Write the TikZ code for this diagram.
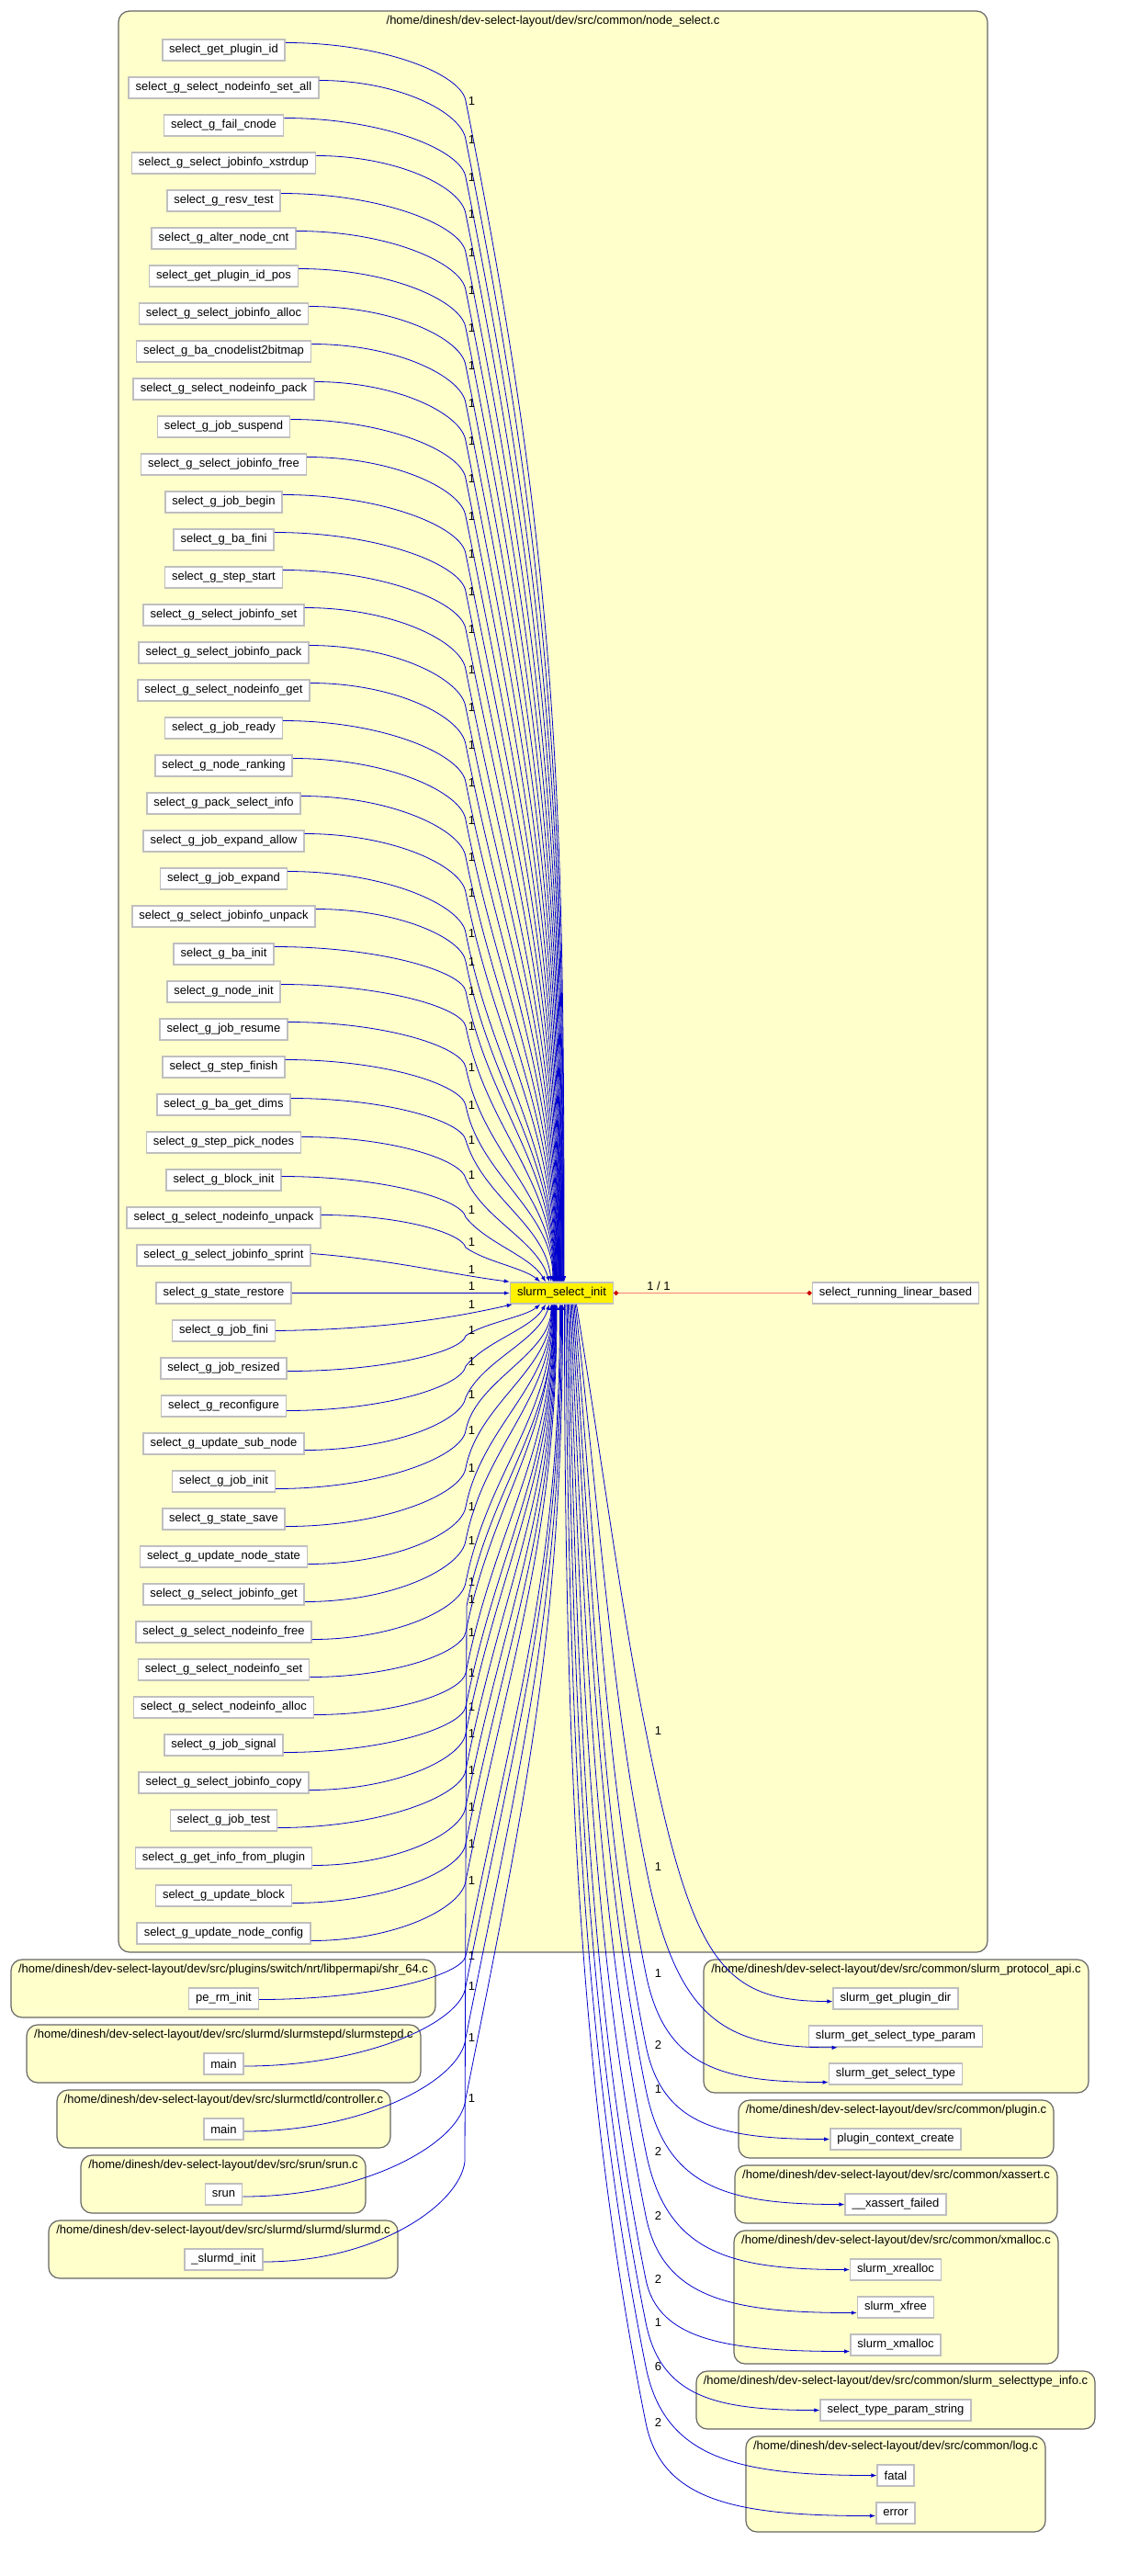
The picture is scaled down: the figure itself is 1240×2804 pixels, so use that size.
\documentclass[tikz,border=0pt]{standalone}
\usepackage{fontspec}
\setmainfont{Liberation Sans}
\usetikzlibrary{calc,arrows.meta}
\definecolor{clfill}{RGB}{255,255,204}
\definecolor{clline}{RGB}{102,102,102}
\definecolor{boxline}{RGB}{191,191,191}
\definecolor{eblue}{RGB}{0,0,205}
\definecolor{ered}{RGB}{250,128,114}
\definecolor{dred}{RGB}{204,0,0}
\newcommand\dgfont{\fontsize{13pt}{15pt}\selectfont}
\begin{document}
\begin{tikzpicture}[x=1pt,y=-1pt,
  fn/.style={draw=boxline,line width=1.6pt,fill=white,minimum height=23pt,inner xsep=7.5pt,inner ysep=0pt,font=\dgfont},
  hubstyle/.style={fn,fill=yellow},
  cluster/.style={draw=clline,line width=1.2pt,fill=clfill,rounded corners=12pt,inner sep=0pt},
  ctitle/.style={inner sep=0pt,font=\dgfont},
  lbl/.style={inner sep=0pt,font=\dgfont},
  calledge/.style={draw=eblue,line width=0.8pt,-{Latex[length=6pt,width=4.5pt]}},
]
\useasboundingbox (0,0) rectangle (1240,2804);
\fill[white] (0,0) rectangle (1240,2804);

% ---------- clusters ----------
\node[cluster,minimum width=946pt,minimum height=2113pt] (cmain) at (602,1068.5) {};
\node[ctitle] (tmain) at (602,23) {/home/dinesh/dev-select-layout/dev/src/common/node\_select.c};

\node[cluster,minimum width=462pt,minimum height=63pt] (c1) at (243,2164.5) {};
\node[ctitle] (t1) at (243,2144) {/home/dinesh/dev-select-layout/dev/src/plugins/switch/nrt/libpermapi/shr\_64.c};
\node[cluster,minimum width=429pt,minimum height=63pt] (c2) at (243.5,2235.5) {};
\node[ctitle] (t2) at (243.5,2215) {/home/dinesh/dev-select-layout/dev/src/slurmd/slurmstepd/slurmstepd.c};
\node[cluster,minimum width=363pt,minimum height=63pt] (c3) at (243.5,2306.5) {};
\node[ctitle] (t3) at (243.5,2286) {/home/dinesh/dev-select-layout/dev/src/slurmctld/controller.c};
\node[cluster,minimum width=310pt,minimum height=63pt] (c4) at (243,2377.5) {};
\node[ctitle] (t4) at (243,2357) {/home/dinesh/dev-select-layout/dev/src/srun/srun.c};
\node[cluster,minimum width=380pt,minimum height=63pt] (c5) at (243,2448.5) {};
\node[ctitle] (t5) at (243,2428) {/home/dinesh/dev-select-layout/dev/src/slurmd/slurmd/slurmd.c};

\node[cluster,minimum width=419pt,minimum height=145pt] (r1) at (975.5,2205.5) {};
\node[ctitle] (tr1) at (975.5,2144) {/home/dinesh/dev-select-layout/dev/src/common/slurm\_protocol\_api.c};
\node[cluster,minimum width=343pt,minimum height=63pt] (r2) at (975.5,2317.5) {};
\node[ctitle] (tr2) at (975.5,2297) {/home/dinesh/dev-select-layout/dev/src/common/plugin.c};
\node[cluster,minimum width=351pt,minimum height=63pt] (r3) at (975.5,2388.5) {};
\node[ctitle] (tr3) at (975.5,2368) {/home/dinesh/dev-select-layout/dev/src/common/xassert.c};
\node[cluster,minimum width=353pt,minimum height=145pt] (r4) at (975.5,2500.5) {};
\node[ctitle] (tr4) at (975.5,2439) {/home/dinesh/dev-select-layout/dev/src/common/xmalloc.c};
\node[cluster,minimum width=434pt,minimum height=63pt] (r5) at (975,2612.5) {};
\node[ctitle] (tr5) at (975,2592) {/home/dinesh/dev-select-layout/dev/src/common/slurm\_selecttype\_info.c};
\node[cluster,minimum width=326pt,minimum height=104pt] (r6) at (975,2704) {};
\node[ctitle] (tr6) at (975,2663) {/home/dinesh/dev-select-layout/dev/src/common/log.c};

% ---------- nodes ----------
\foreach \nm [count=\i] in {select\_get\_plugin\_id,select\_g\_select\_nodeinfo\_set\_all,select\_g\_fail\_cnode,select\_g\_select\_jobinfo\_xstrdup,select\_g\_resv\_test,select\_g\_alter\_node\_cnt,select\_get\_plugin\_id\_pos,select\_g\_select\_jobinfo\_alloc,select\_g\_ba\_cnodelist2bitmap,select\_g\_select\_nodeinfo\_pack,select\_g\_job\_suspend,select\_g\_select\_jobinfo\_free,select\_g\_job\_begin,select\_g\_ba\_fini,select\_g\_step\_start,select\_g\_select\_jobinfo\_set,select\_g\_select\_jobinfo\_pack,select\_g\_select\_nodeinfo\_get,select\_g\_job\_ready,select\_g\_node\_ranking,select\_g\_pack\_select\_info,select\_g\_job\_expand\_allow,select\_g\_job\_expand,select\_g\_select\_jobinfo\_unpack,select\_g\_ba\_init,select\_g\_node\_init,select\_g\_job\_resume,select\_g\_step\_finish,select\_g\_ba\_get\_dims,select\_g\_step\_pick\_nodes,select\_g\_block\_init,select\_g\_select\_nodeinfo\_unpack,select\_g\_select\_jobinfo\_sprint,select\_g\_state\_restore,select\_g\_job\_fini,select\_g\_job\_resized,select\_g\_reconfigure,select\_g\_update\_sub\_node,select\_g\_job\_init,select\_g\_state\_save,select\_g\_update\_node\_state,select\_g\_select\_jobinfo\_get,select\_g\_select\_nodeinfo\_free,select\_g\_select\_nodeinfo\_set,select\_g\_select\_nodeinfo\_alloc,select\_g\_job\_signal,select\_g\_select\_jobinfo\_copy,select\_g\_job\_test,select\_g\_get\_info\_from\_plugin,select\_g\_update\_block,select\_g\_update\_node\_config}{
  \node[fn] (u\i) at (243.5,{54.5+41*(\i-1)}) {\nm};
}
\node[hubstyle] (hub) at (611.5,1407.5) {slurm\_select\_init};
\node[fn] (rlb) at (975,1407.5) {select\_running\_linear\_based};

\node[fn] (cpe) at (243.5,2175.5) {pe\_rm\_init};
\node[fn] (cm1) at (243.5,2246.5) {main};
\node[fn] (cm2) at (243.5,2317.5) {main};
\node[fn] (csr) at (243.5,2388.5) {srun};
\node[fn] (csd) at (243.5,2459.5) {\_slurmd\_init};

\node[fn] (rpd) at (975,2175.5) {slurm\_get\_plugin\_dir};
\node[fn] (rstp) at (975,2216.5) {slurm\_get\_select\_type\_param};
\node[fn] (rst) at (975,2257.5) {slurm\_get\_select\_type};
\node[fn] (pcc) at (975,2328.5) {plugin\_context\_create};
\node[fn] (xaf) at (975,2399.5) {\_\_xassert\_failed};
\node[fn] (xre) at (975,2470.5) {slurm\_xrealloc};
\node[fn] (xfr) at (975,2511.5) {slurm\_xfree};
\node[fn] (xma) at (975,2552.5) {slurm\_xmalloc};
\node[fn] (tps) at (975,2623.5) {select\_type\_param\_string};
\node[fn] (fat) at (975,2694.5) {fatal};
\node[fn] (err) at (975,2735.5) {error};

% ---------- upper left edges ----------
\foreach \i/\ly in {1/110,2/152,3/193,4/233,5/275,6/316,7/357,8/398,9/439,10/480,11/521,12/562,13/603,14/644,15/685,16/729,17/770,18/810.7,19/851.7,20/892.7,21/933,22/971.7,23/1015.7,24/1046.7,25/1079,26/1117.3,27/1161.7,28/1203.3}{
  \pgfmathsetmacro{\hxv}{2.5-0.45*(\i-1)}
  \pgfmathsetmacro{\ddv}{0.4*(1396-\ly)}
  \coordinate (su\i) at ([yshift=8pt]u\i.east);
  \coordinate (pu\i) at (507,\ly);
  \coordinate (hu\i) at ([xshift=\hxv pt]hub.north);
  \draw[calledge] (su\i) .. controls ($(su\i)!0.55!(su\i -| pu\i)$) and ($(pu\i)!0.45!(pu\i |- su\i)+(-4,0)$) .. (pu\i) .. controls ($(pu\i)+(0.2*\ddv,\ddv)$) and ($(hu\i)+(0,-\ddv)$) .. (hu\i);
  \node[lbl] (lu\i) at (513.5,\ly) {1};
}
\foreach \i/\ly/\py/\hxv/\dl/\sv/\axv in {29/1241/0/-11.5/7/0.3/0.1,30/1279/4/-13.5/6/0.45/0.3,31/1317/8/-17.5/4/0.8/0.6,32/1352/6/-23.5/3/1.4/1.2}{
  \pgfmathsetmacro{\pyy}{\ly+\py}
  \pgfmathsetmacro{\ddv}{0.4*(1396-\pyy)}
  \coordinate (su\i) at ([yshift=\dl pt]u\i.east);
  \coordinate (pu\i) at (507,\pyy);
  \coordinate (hu\i) at ([xshift=\hxv pt]hub.north);
  \draw[calledge] (su\i) .. controls ($(su\i)!0.55!(su\i -| pu\i)$) and ($(pu\i)!0.45!(pu\i |- su\i)+(-4,0)$) .. (pu\i) .. controls ($(pu\i)+(\sv*\ddv,\ddv)$) and ($(hu\i)+(-\axv*\ddv,-\ddv)$) .. (hu\i);
  \node[lbl] (lu\i) at (513.5,\ly) {1};
}
\draw[calledge] ([yshift=2pt]u33.east) .. controls (425,1371) and (490,1387) .. (hub.north west);
\node[lbl] (lu33) at (513.5,1382) {1};
\draw[calledge] (u34.east) -- (hub.west);
\node[lbl] (lu34) at (513.5,1400.5) {1};

% ---------- lower left edges ----------
\draw[calledge] (u35.east) .. controls (420,1447) and (495,1434) .. ([xshift=3pt]hub.south west);
\node[lbl] (ll35) at (513.5,1420) {1};
\foreach \kk/\ly/\py/\hxv/\dl/\sv/\axv in {36/1448/6/-23.5/3/1.4/1.2,37/1482/5/-17.5/5/0.8/0.6,38/1518/3/-13.5/7/0.45/0.3}{
  \pgfmathsetmacro{\pyy}{\ly+\py}
  \pgfmathsetmacro{\ddv}{0.4*(\pyy-1420)}
  \coordinate (sl\kk) at ([yshift=-\dl pt]u\kk.east);
  \coordinate (pl\kk) at (507,\pyy);
  \coordinate (hl\kk) at ([xshift=\hxv pt]hub.south);
  \draw[calledge] (sl\kk) .. controls ($(sl\kk)!0.55!(sl\kk -| pl\kk)$) and ($(pl\kk)!0.45!(pl\kk |- sl\kk)+(-4,0)$) .. (pl\kk) .. controls ($(pl\kk)+(\sv*\ddv,-\ddv)$) and ($(hl\kk)+(-\axv*\ddv,\ddv)$) .. (hl\kk);
  \node[lbl] (ll\kk) at (513.5,\ly) {1};
}
\foreach \kk/\ly in {39/1557,40/1597.7,41/1640,42/1676.7,43/1722.3,44/1776.7,45/1821,46/1857.7,47/1886.7,48/1926.7,49/1966.7,50/2006.7,51/2047.3}{
  \pgfmathsetmacro{\hxv}{-11.5+0.5*(\kk-39)}
  \pgfmathsetmacro{\ddv}{0.4*(\ly-1420)}
  \coordinate (sl\kk) at ([yshift=-8pt]u\kk.east);
  \coordinate (pl\kk) at (507,\ly);
  \coordinate (hl\kk) at ([xshift=\hxv pt]hub.south);
  \draw[calledge] (sl\kk) .. controls ($(sl\kk)!0.55!(sl\kk -| pl\kk)$) and ($(pl\kk)!0.45!(pl\kk |- sl\kk)+(-4,0)$) .. (pl\kk) .. controls ($(pl\kk)+(0.2*\ddv,-\ddv)$) and ($(hl\kk)+(0,\ddv)$) .. (hl\kk);
  \node[lbl] (ll\kk) at (513.5,\ly) {1};
}
\foreach \nm/\ly/\hxv/\dl in {cpe/2129/-2/1,cm1/2162/-1/2.5,cm2/2218/0/2.5,csr/2284/1/2.5}{
  \pgfmathsetmacro{\ddv}{0.4*(\ly-1420)}
  \coordinate (s\nm) at ([yshift=-\dl pt]\nm.east);
  \coordinate (p\nm) at (507,\ly);
  \coordinate (h\nm) at ([xshift=\hxv pt]hub.south);
  \draw[calledge] (s\nm) .. controls ($(s\nm)!0.55!(s\nm -| p\nm)$) and ($(p\nm)!0.45!(p\nm |- s\nm)+(-4,0)$) .. (p\nm) .. controls ($(p\nm)+(0.2*\ddv,-\ddv)$) and ($(h\nm)+(0,\ddv)$) .. (h\nm);
  \node[lbl] (l\nm) at (513.5,\ly) {1};
}
\coordinate (scsd) at ([yshift=-2.5pt]csd.east);
\coordinate (bcsd) at (506,2353);
\coordinate (pcsd) at (508,1748);
\draw[calledge] (scsd) .. controls (410,2462) and (500,2400) .. (bcsd) -- (pcsd) .. controls (534,1617) and ($(hub.south)+(-8,131)$) .. ([xshift=-8pt]hub.south);
\node[lbl] (lcsd) at (513.5,1741) {1};

% ---------- red edge ----------
\draw[ered,line width=1.2pt,{Circle[color=dred,length=5pt]}-{Circle[color=dred,length=5pt]}] (hub.east) -- (rlb.west);
\node[lbl] (lrlb) at (717,1400) {1 / 1};

% ---------- right edges ----------
\coordinate (e1) at ([yshift=-3pt]rpd.west);
\coordinate (e2) at ([xshift=32pt]rstp.south west);
\coordinate (e3) at ([yshift=-9pt]rst.west);
\coordinate (e4) at (pcc.west);
\coordinate (e5) at (xaf.west);
\coordinate (e6) at (xre.west);
\coordinate (e7) at ([yshift=-6pt]xfr.west);
\coordinate (e8) at ([yshift=-7pt]xma.west);
\coordinate (e9) at (tps.west);
\coordinate (e10) at (fat.west);
\coordinate (e11) at ([yshift=-3pt]err.west);
\foreach \j/\ly/\ty/\lab in {1/1884/2178.5/1,2/2032/2228/1,3/2148/2266.5/1,4/2226/2328.5/2,5/2274/2399.5/1,6/2342/2470.5/2,7/2412/2517.5/2,8/2481/2559.5/2,9/2528/2623.5/1,10/2576/2694.5/6,11/2637/2738.5/2}{
  \pgfmathsetmacro{\sxv}{3+1.3*(11-\j)}
  \pgfmathsetmacro{\alv}{0.04*(11-\j)}
  \pgfmathsetmacro{\dxv}{\alv*(703-611.5-\sxv)}
  \pgfmathsetmacro{\dyv}{0.4*(\ly-1420)}
  \pgfmathsetmacro{\cv}{0.3*(\ly-1420)}
  \pgfmathsetmacro{\kv}{\ty-\ly}
  \coordinate (sr\j) at ([xshift=\sxv pt]hub.south);
  \coordinate (mr\j) at (703,\ly);
  \draw[calledge] (sr\j) .. controls ($(sr\j)+(\dxv,\dyv)$) and ($(mr\j)+(-0.2*\cv,-\cv)$) .. (mr\j) .. controls ($(mr\j)+(0.17*\kv,0.85*\kv)$) and ($(e\j)!0.6!(e\j -| mr\j)$) .. (e\j);
  \node[lbl] (lr\j) at (716.5,\ly) {\lab};
}
\end{tikzpicture}
\end{document}
